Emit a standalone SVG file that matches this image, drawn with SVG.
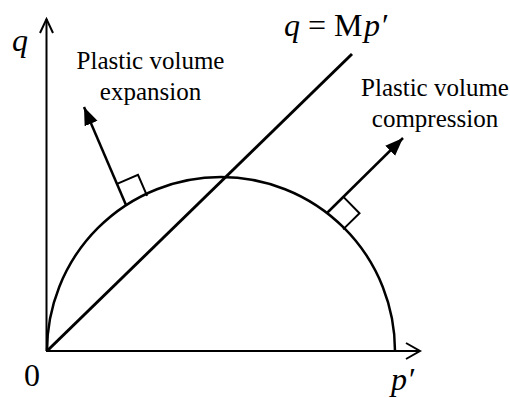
<svg xmlns="http://www.w3.org/2000/svg" width="510" height="398" viewBox="0 0 510 398">
<style>
.ln{fill:none;stroke:#000;stroke-linecap:butt;stroke-linejoin:miter}
.t{font-family:"Liberation Serif","Times New Roman",serif;fill:#000}
.lab{font-size:25px;text-anchor:middle}
.it{font-style:italic}
</style>
<defs>
<marker id="tri" markerUnits="userSpaceOnUse" markerWidth="20" markerHeight="16" viewBox="0 0 20 16" refX="18" refY="8" orient="auto">
<path d="M0,1 L18,8 L0,15 Z" fill="#000"/>
</marker>
</defs>
<rect width="510" height="398" fill="#fff"/>
<g id="axes">
<path class="ln" d="M46.5,351 V19" stroke-width="2"/>
<path class="ln" d="M40,33 L46.5,19 L53,33" stroke-width="2"/>
<path class="ln" d="M46,351 H420" stroke-width="2"/>
<path class="ln" d="M406,343 L420,351 L406,359" stroke-width="2"/>
</g>
<g id="yield-surface">
<path class="ln" d="M47,351 A174,174 0 0 1 395,351" stroke-width="2.5"/>
</g>
<g id="csl">
<path class="ln" d="M47,351 L352,54" stroke-width="3"/>
</g>
<g id="connectors">
<path class="ln" d="M126,205 L84,107" stroke-width="2.5" marker-end="url(#tri)"/>
<path class="ln" d="M117,183.9 L138,174.8 L147.1,195.9" stroke-width="2"/>
<path class="ln" d="M327,213 L403,138" stroke-width="2.5" marker-end="url(#tri)"/>
<path class="ln" d="M343.4,196.9 L359.5,213.3 L343.1,229.4" stroke-width="2"/>
</g>
<g id="labels">
<text class="t it" x="12" y="51" font-size="32">q</text>
<text class="t" x="24" y="386" font-size="32">0</text>
<text class="t it" x="391" y="390" font-size="32">p′</text>
<text class="t" y="36" font-size="32"><tspan class="it" x="284">q</tspan><tspan x="308">=</tspan><tspan x="334">M</tspan><tspan class="it" x="364">p</tspan><tspan x="382">′</tspan></text>
<text class="t lab" x="150.5" y="69">Plastic volume</text>
<text class="t lab" x="150.5" y="100">expansion</text>
<text class="t lab" x="435" y="96">Plastic volume</text>
<text class="t lab" x="435" y="127">compression</text>
</g>
</svg>
